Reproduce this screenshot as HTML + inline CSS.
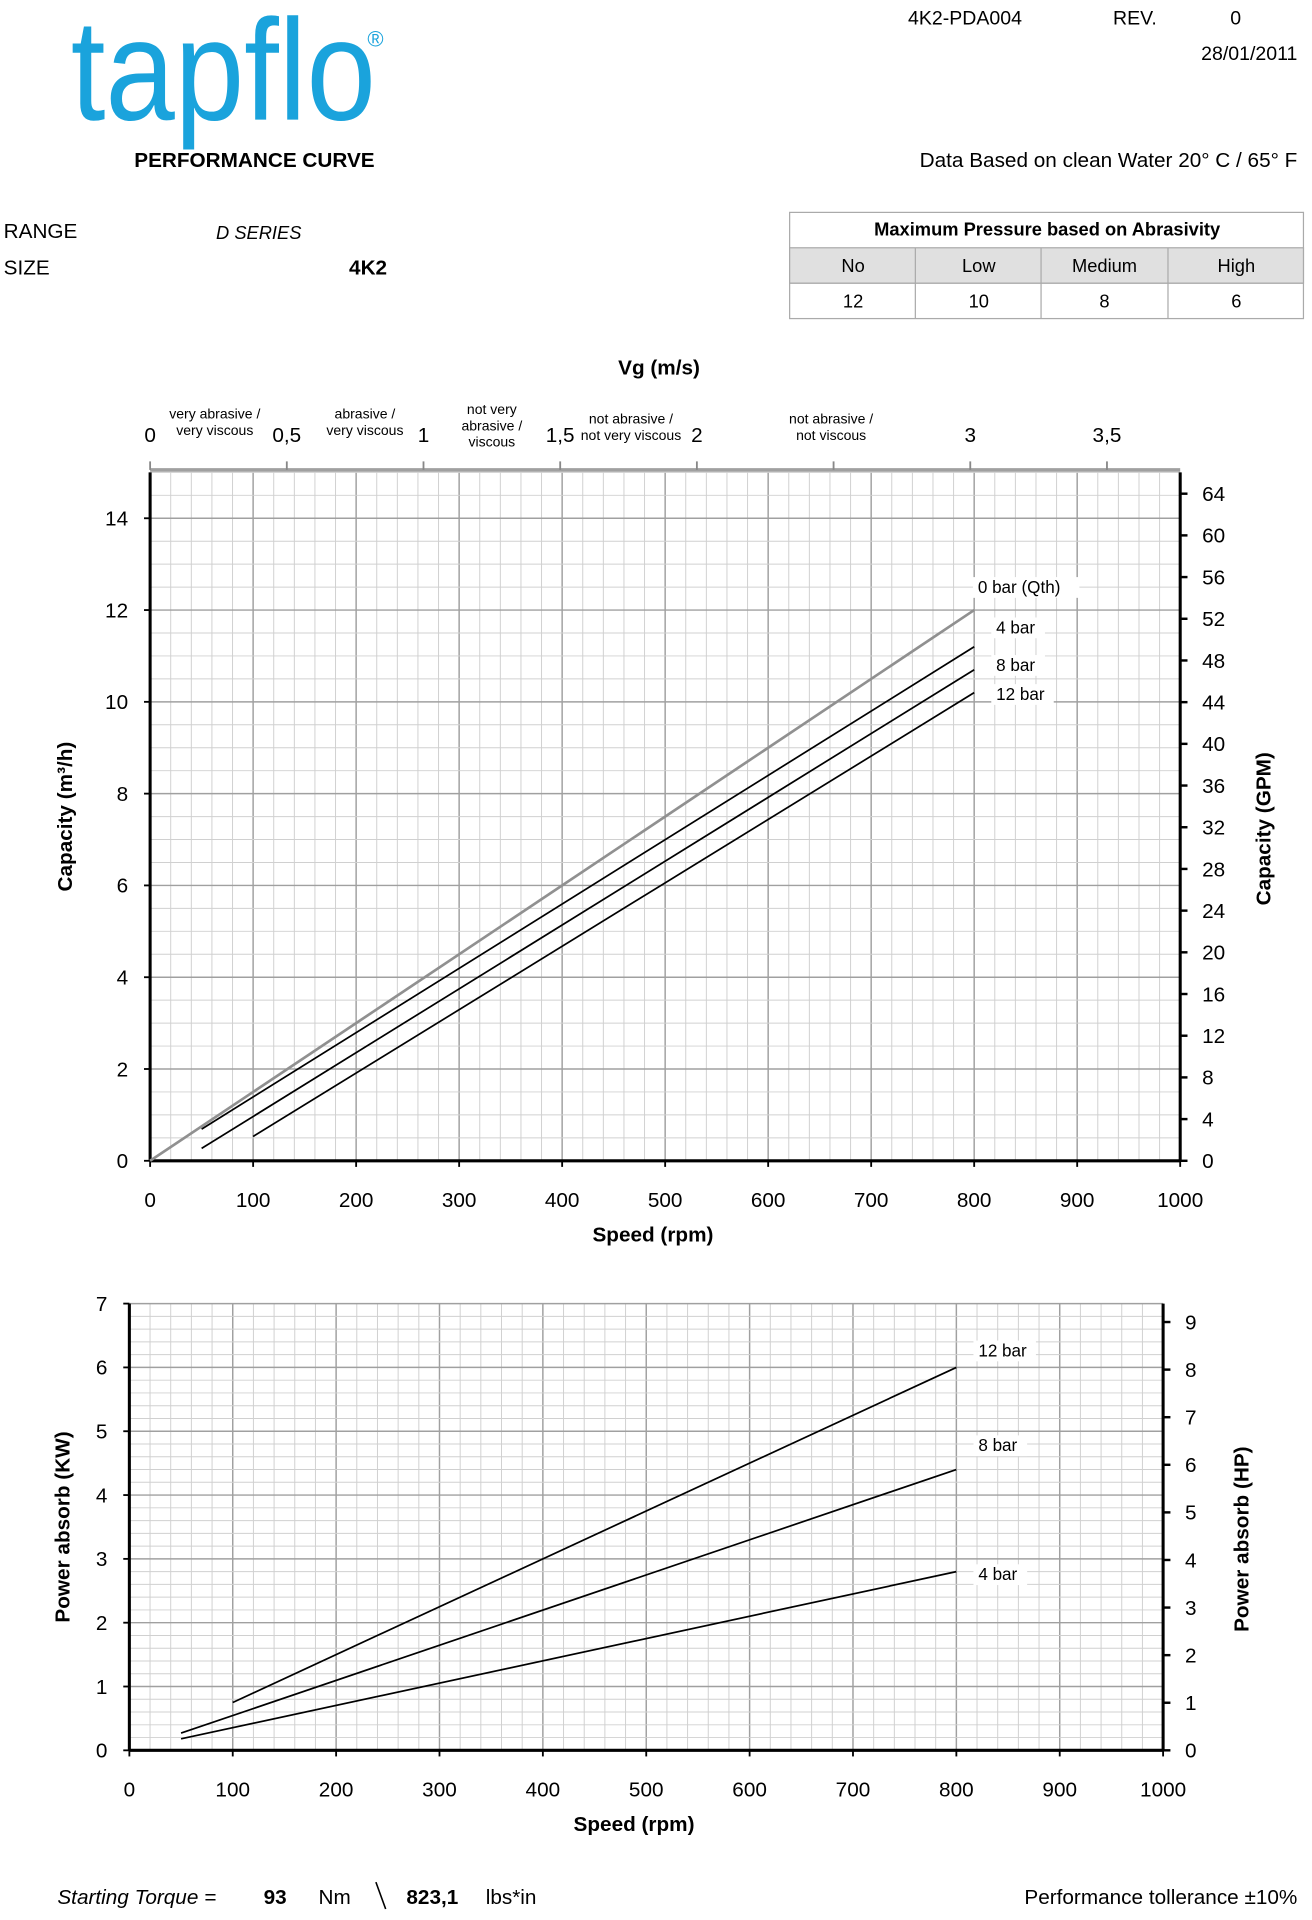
<!DOCTYPE html>
<html><head><meta charset="utf-8">
<style>
html,body{margin:0;padding:0;background:#fff;}
svg{display:block;font-family:"Liberation Sans",sans-serif;}
</style></head>
<body>
<svg id="page" width="1312" height="1920" viewBox="0 0 1075 1573" preserveAspectRatio="none" xmlns="http://www.w3.org/2000/svg">
<g>
<text x="58" y="98" font-size="118" fill="#1aa3dc" textLength="250" lengthAdjust="spacingAndGlyphs" font-weight="normal">tapflo</text>
<text x="301" y="38" font-size="18" fill="#1aa3dc">®</text>
<text x="110" y="137" font-size="17" font-weight="bold">PERFORMANCE CURVE</text>
<text x="744" y="20" font-size="16">4K2-PDA004</text>
<text x="912" y="20" font-size="16">REV.</text>
<text x="1008" y="20" font-size="16">0</text>
<text x="1063" y="49" font-size="16" text-anchor="end">28/01/2011</text>
<text x="1063" y="137" font-size="17" text-anchor="end">Data Based on clean Water 20° C  /  65° F</text>
<text x="3" y="195" font-size="17">RANGE</text>
<text x="177" y="196" font-size="15" font-style="italic">D SERIES</text>
<text x="3" y="225" font-size="17">SIZE</text>
<text x="286" y="225" font-size="17" font-weight="bold">4K2</text>
</g>
<g font-size="15">
<rect x="647" y="174" width="421" height="87" fill="#fff" stroke="#aaa"/>
<rect x="647" y="203" width="421" height="29" fill="#e0e0e0" stroke="#aaa"/>
<line x1="647" y1="232" x2="1068" y2="232" stroke="#aaa"/>
<line x1="750" y1="203" x2="750" y2="261" stroke="#aaa"/>
<line x1="853" y1="203" x2="853" y2="261" stroke="#aaa"/>
<line x1="957" y1="203" x2="957" y2="261" stroke="#aaa"/>
<text x="858" y="193" text-anchor="middle" font-weight="bold">Maximum Pressure based on Abrasivity</text>
<text x="699" y="223" text-anchor="middle">No</text>
<text x="802" y="223" text-anchor="middle">Low</text>
<text x="905" y="223" text-anchor="middle">Medium</text>
<text x="1013" y="223" text-anchor="middle">High</text>
<text x="699" y="252" text-anchor="middle">12</text>
<text x="802" y="252" text-anchor="middle">10</text>
<text x="905" y="252" text-anchor="middle">8</text>
<text x="1013" y="252" text-anchor="middle">6</text>
</g>
<g id="cap"></g>
<g id="pow"></g>
<g font-size="17">
<text x="47" y="1560" font-style="italic">Starting Torque =</text>
<text x="216" y="1560" font-weight="bold">93</text>
<text x="261" y="1560">Nm</text>
<line x1="308" y1="1542" x2="316" y2="1564" stroke="#000" stroke-width="1.3"/>
<text x="333" y="1560" font-weight="bold">823,1</text>
<text x="398" y="1560">lbs*in</text>
<text x="1063" y="1560" text-anchor="end">Performance tollerance ±10%</text>
</g>
</svg>
<script>
// ---- Capacity chart data ----
const capSeriesNames = ["0 bar (Qth)", "4 bar", "8 bar", "12 bar"];
const capSpeedStart = [0, 50, 50, 100];
const capSpeedEnd = [800, 800, 800, 800];
const capValueStart = [0, 0.69, 0.27, 0.53];
const capValueEnd = [12, 11.2, 10.7, 10.2];
const capLeftTicks = [0, 2, 4, 6, 8, 10, 12, 14];
const capRightTicks = [0, 4, 8, 12, 16, 20, 24, 28, 32, 36, 40, 44, 48, 52, 56, 60, 64];
const speedTicks = [0, 100, 200, 300, 400, 500, 600, 700, 800, 900, 1000];
const vgTicks = [0, 0.5, 1, 1.5, 2, 2.5, 3, 3.5];
const vgTickLabels = ["0", "0,5", "1", "1,5", "2", "", "3", "3,5"];
// ---- Power chart data ----
const powSeriesNames = ["12 bar", "8 bar", "4 bar"];
const powSpeedStart = [100, 50, 50];
const powSpeedEnd = [800, 800, 800];
const powValueStart = [0.75, 0.27, 0.18];
const powValueEnd = [6.0, 4.4, 2.8];
const powLeftTicks = [0, 1, 2, 3, 4, 5, 6, 7];
const powRightTicks = [0, 1, 2, 3, 4, 5, 6, 7, 8, 9];

const NS = "http://www.w3.org/2000/svg";
function mk(parent, tag, attrs, txt) {
  const e = document.createElementNS(NS, tag);
  for (const k in attrs) e.setAttribute(k, attrs[k]);
  if (txt !== undefined) e.textContent = txt;
  parent.appendChild(e);
  return e;
}

function chart(g, o) {
  const xs = v => o.x0 + (o.x1 - o.x0) * v / 1000;
  const ys = v => o.y0 - (o.y0 - o.yTop) * v / o.yMax;
  for (let r = 0; r <= 1000; r += 20) {
    const major = r % 100 === 0;
    const l = mk(g, "line", {x1: xs(r), x2: xs(r), y1: o.y0, y2: o.yTop, stroke: major ? "#a0a0a0" : "#d0d0d0", "stroke-width": major ? 1.2 : 0.8});
    
    
  }
  for (let i = 0; i * o.minorY <= o.yMax + 1e-6; i++) {
    const v = i * o.minorY;
    const major = Math.abs(v / o.majorY - Math.round(v / o.majorY)) < 1e-6;
    const l = mk(g, "line", {x1: o.x0, x2: o.x1, y1: ys(v), y2: ys(v), stroke: major ? "#a0a0a0" : "#d0d0d0", "stroke-width": major ? 1.2 : 0.8});
    
    
  }
  let a = mk(g, "line", {x1: o.x0, x2: o.x0, y1: o.y0, y2: o.yTop, stroke: "#000", "stroke-width": 2.5});
  
  
  a = mk(g, "line", {x1: o.x1, x2: o.x1, y1: o.y0, y2: o.yTop, stroke: "#000", "stroke-width": 2.5});
  
  
  a = mk(g, "line", {x1: o.x0, x2: o.x1, y1: o.y0, y2: o.y0, stroke: "#000", "stroke-width": 2.5});
  
  
  speedTicks.forEach(t => {
    mk(g, "line", {x1: xs(t), x2: xs(t), y1: o.y0, y2: o.y0 + 5, stroke: "#000", "stroke-width": 1.5});
    const tx = mk(g, "text", {x: xs(t), y: o.y0 + 38, "font-size": 17, "text-anchor": "middle"}, String(t));
    
    
  });
  const xt = mk(g, "text", {x: (o.x0 + o.x1) / 2 - 10, y: o.y0 + 66, "font-size": 17, "font-weight": "bold", "text-anchor": "middle"}, "Speed (rpm)");
  
  
  o.leftTicks.forEach(t => {
    mk(g, "line", {x1: o.x0 - 5, x2: o.x0, y1: ys(t), y2: ys(t), stroke: "#000", "stroke-width": 1.5});
    const tx = mk(g, "text", {x: o.x0 - 18, y: ys(t) + 6, "font-size": 17, "text-anchor": "end"}, String(t));
    
    
  });
  o.rightTicks.forEach(t => {
    const y = ys(t * o.rightFactor);
    mk(g, "line", {x1: o.x1, x2: o.x1 + 6, y1: y, y2: y, stroke: "#000", "stroke-width": 2});
    const tx = mk(g, "text", {x: o.x1 + 18, y: y + 6, "font-size": 17}, String(t));
    
    
  });
  let t1 = mk(g, "text", {x: 0, y: 0, "font-size": 17, "font-weight": "bold", "text-anchor": "middle", transform: `translate(${o.leftTitleX},${(o.y0 + o.yTop) / 2}) rotate(-90)`}, o.leftTitle);
  
  
  t1 = mk(g, "text", {x: 0, y: 0, "font-size": 17, "font-weight": "bold", "text-anchor": "middle", transform: `translate(${o.rightTitleX},${(o.y0 + o.yTop) / 2 + 10}) rotate(-90)`}, o.rightTitle);
  
  
  o.names.forEach((n, i) => {
    const ln = mk(g, "line", {x1: xs(o.sS[i]), y1: ys(o.vS[i]), x2: xs(o.sE[i]), y2: ys(o.vE[i]), stroke: o.colors[i], "stroke-width": o.widths[i]});
    
    
    const ly = ys(o.vE[i]) + o.labelDy[i];
    const tw = n.length * 7.2 + 8;
    const lx = xs(o.sE[i]) + o.labelDx[i];
    mk(g, "rect", {x: lx - 4, y: ly - 13, width: tw, height: 17, fill: "#fff"});
    const lt = mk(g, "text", {x: lx, y: ly, "font-size": 14}, n);
    
    
  });
}

const cap = document.getElementById("cap");
chart(cap, {x0: 123, x1: 967, y0: 951, yTop: 387, yMax: 15, minorY: 0.5, majorY: 2,
  leftTicks: capLeftTicks, rightTicks: capRightTicks, rightFactor: 1 / 4.403,
  leftTitle: "Capacity (m³/h)", rightTitle: "Capacity (GPM)", leftTitleX: 59, rightTitleX: 1041,
  names: capSeriesNames, sS: capSpeedStart, sE: capSpeedEnd, vS: capValueStart, vE: capValueEnd,
  colors: ["#909090", "#000", "#000", "#000"], widths: [2.2, 1.4, 1.4, 1.4],
  labelDx: [3, 18, 18, 18], labelDy: [-14, -11, 1, 6]});
(function () {
  const vx = v => 123 + 224 * v;
  const ax = mk(cap, "line", {x1: 123, x2: 967, y1: 385, y2: 385, stroke: "#a0a0a0", "stroke-width": 3});
  
  
  vgTicks.forEach((t, i) => {
    mk(cap, "line", {x1: vx(t), x2: vx(t), y1: 378, y2: 385, stroke: "#888", "stroke-width": 1.5});
    const tx = mk(cap, "text", {x: vx(t), y: 362, "font-size": 17, "text-anchor": "middle"}, vgTickLabels[i]);
    
    
  });
  const tt = mk(cap, "text", {x: 540, y: 307, "font-size": 17, "font-weight": "bold", "text-anchor": "middle"}, "Vg (m/s)");
  
  
  const notes = [[176, ["very abrasive /", "very viscous"], 343], [299, ["abrasive /", "very viscous"], 343], [403, ["not very", "abrasive /", "viscous"], 339], [517, ["not  abrasive /", "not very viscous"], 347], [681, ["not  abrasive /", "not  viscous"], 347]];
  notes.forEach(n => {
    n[1].forEach((s, j) => {
      const t = mk(cap, "text", {x: n[0], y: n[2] + j * 13.5, "font-size": 11.5, "text-anchor": "middle"}, s);
      
      
    });
  });
})();

const pow = document.getElementById("pow");
chart(pow, {x0: 106, x1: 953, y0: 1434, yTop: 1068, yMax: 7, minorY: 0.2, majorY: 1,
  leftTicks: powLeftTicks, rightTicks: powRightTicks, rightFactor: 0.7457,
  leftTitle: "Power absorb (KW)", rightTitle: "Power absorb (HP)", leftTitleX: 57, rightTitleX: 1023,
  names: powSeriesNames, sS: powSpeedStart, sE: powSpeedEnd, vS: powValueStart, vE: powValueEnd,
  colors: ["#000", "#000", "#000"], widths: [1.4, 1.4, 1.4],
  labelDx: [18, 18, 18], labelDy: [-9, -15, 7]});
</script>
</body></html>
